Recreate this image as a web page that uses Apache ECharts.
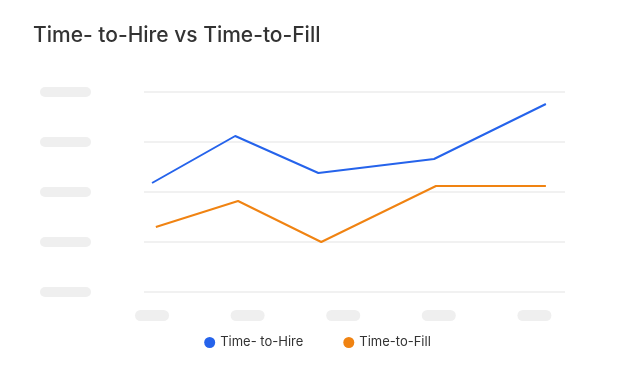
<!DOCTYPE html>
<html>
<head>
<meta charset="utf-8">
<script src="https://cdn.jsdelivr.net/npm/echarts@6/dist/echarts.min.js"></script>
<style>html,body{margin:0;padding:0;background:#fff}#c{width:635px;height:386px}</style>
</head>
<body>
<div id="c"></div>
<script>
const titleText = 'Time- to-Hire vs Time-to-Fill';
const seriesNames = ['Time- to-Hire', 'Time-to-Fill'];
const categoryPositions = [0, 1, 2, 3, 4];
const yTicks = [0, 10, 20, 30, 40];
const hireX = [0, 0.87, 1.74, 2.95, 4.12];
const hireY = [21.8, 31.2, 23.8, 26.6, 37.6];
const fillX = [0.04, 0.9, 1.77, 2.97, 4.12];
const fillY = [13, 18.2, 10, 21.2, 21.2];

const pair = (xs, ys) => xs.map((x, i) => [x, ys[i]]);
const chart = echarts.init(document.getElementById('c'), null, {renderer: 'canvas'});
const ff = 'Inter, "Open Sans", sans-serif';
chart.setOption({
  animation: false,
  backgroundColor: '#ffffff',
  title: {
    text: titleText, left: 28, top: 20,
    textStyle: {fontFamily: ff, fontSize: 21, fontWeight: 500, color: '#333333'}
  },
  legend: {
    data: seriesNames, left: 'center', top: 331,
    icon: 'circle', itemWidth: 11, itemHeight: 11, itemGap: 40,
    textStyle: {fontFamily: ff, fontSize: 13, color: '#333333'}
  },
  grid: {left: 144, right: 70, top: 92, bottom: 94, containLabel: false},
  xAxis: {
    type: 'value', min: -0.084, max: 4.32,
    axisLine: {show: false}, axisTick: {show: false}, splitLine: {show: false},
    axisLabel: {
      customValues: categoryPositions, margin: 18,
      formatter: () => '{p| }',
      rich: {p: {width: 34, height: 11, backgroundColor: '#efefef', borderRadius: 6, fontSize: 1}}
    }
  },
  yAxis: {
    type: 'value', min: yTicks[0], max: yTicks[yTicks.length - 1], interval: 10,
    axisLine: {show: false}, axisTick: {show: false},
    splitLine: {lineStyle: {color: '#ececec', width: 1.5}},
    axisLabel: {
      margin: 53, formatter: () => '{p| }',
      rich: {p: {width: 51, height: 10, backgroundColor: '#efefef', borderRadius: 5, fontSize: 1}}
    }
  },
  series: [
    {name: seriesNames[0], type: 'line', data: pair(hireX, hireY), showSymbol: false,
     itemStyle: {color: '#2563eb'}, lineStyle: {color: '#2563eb', width: 2}},
    {name: seriesNames[1], type: 'line', data: pair(fillX, fillY), showSymbol: false,
     itemStyle: {color: '#f08312'}, lineStyle: {color: '#f08312', width: 2}}
  ]
});
</script>
</body>
</html>
